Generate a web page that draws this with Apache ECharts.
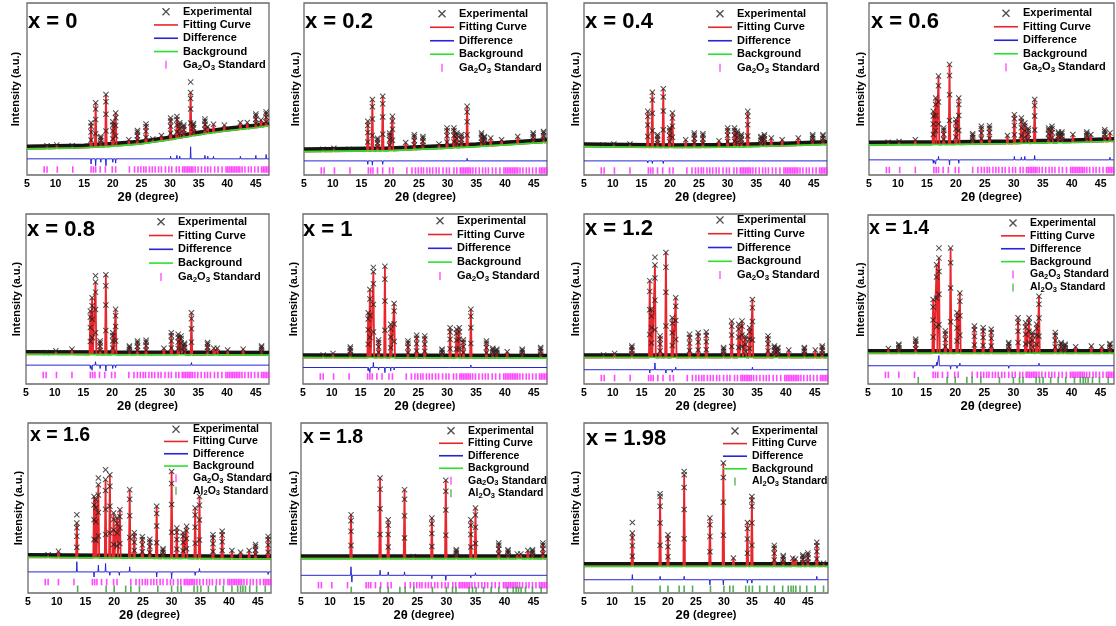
<!DOCTYPE html>
<html><head><meta charset="utf-8">
<script src="https://cdn.jsdelivr.net/npm/echarts@6/dist/echarts.min.js"></script>
<style>html,body{margin:0;padding:0;background:#fff}#c{width:1116px;height:626px}</style>
</head><body><div id="c"></div>
<script>
// ---------------- DATA ----------------
const titles = ['x = 0','x = 0.2','x = 0.4','x = 0.6','x = 0.8','x = 1','x = 1.2','x = 1.4','x = 1.6','x = 1.8','x = 1.98'];
const xTickLabels = [5,10,15,20,25,30,35,40,45];

// background curves [2theta, intensity]
const bg0 = [[5,15.2],[15,15.8],[20,16.8],[25,18.1],[30,20.5],[35,23.4],[40,25.7],[45,27.5],[47.3,28.6]];
const bg1 = [[5,13.6],[20,14.2],[30,15.6],[35,16.5],[40,17.5],[47.3,19]];
const bg2 = [[5,16.5],[20,16],[30,16.2],[40,17],[47.3,17.8]];
const bg3 = [[5,17.5],[20,17.8],[30,18.3],[40,18.9],[47.3,19.6]];
const bg4 = [[5,17.5],[20,17.3],[35,17.2],[47.3,17]];
const bg5 = [[5,15.6],[25,15.4],[47.3,15.2]];
const bg6 = [[5,15.6],[25,15.6],[47.3,15.6]];
const bg7 = [[5,18.2],[25,18.2],[47.3,18.2]];
const bg8 = [[5,21],[25,20.5],[47.3,20]];
const bg9 = [[5,20.2],[47.3,20.2]];
const bg10 = [[5,15.7],[48.6,15.7]];

// fitted peaks [2theta, peak top]
const peaks0 = [[8.5,17],[10.2,17.5],[12.9,17],[16.2,30.4],[17.0,42],[17.9,22.4],[18.8,46.8],[20.0,31],[20.5,36],[22.8,20.5],[24.3,25.9],[25.8,29.6],[27.0,21],[28.5,23],[30.1,33.1],[31.2,34],[31.7,30.4],[32.4,29],[33.6,48],[34.1,30],[36.1,32.5],[36.6,28],[37.6,29.5],[39.5,29],[42.3,30.4],[43.5,30.5],[45.0,35.5],[45.9,32],[46.8,36.7]];
const peaks1 = [[8.3,15],[10.2,15.5],[12.9,15],[16.1,31.2],[16.9,43.9],[17.8,21.4],[18.7,45.8],[19.9,24.4],[20.4,34.1],[22.7,18.9],[24.2,23.4],[25.7,22.4],[28.5,18],[29.9,27.3],[31.1,27.3],[31.6,24.4],[32.4,23.5],[33.4,39.9],[35.9,24.4],[36.4,22.4],[37.5,21.5],[39.4,20.5],[42.2,22.4],[44.9,24.4],[46.7,25.3]];
const peaks2 = [[8.3,17.5],[10.2,18],[13.0,18],[16.1,37],[16.9,48.1],[17.8,23.4],[18.8,50.1],[19.9,27.3],[20.4,36],[22.7,20.5],[24.2,24.4],[25.7,24],[28.5,19.9],[30.0,27.3],[31.2,27.3],[31.7,25.4],[32.4,23.5],[33.5,37],[35.8,22.4],[36.4,23.4],[37.6,21.5],[39.5,20.5],[42.3,21.5],[44.8,23.4],[46.6,23.4]];
const peaks3 = [[8.3,19],[10.2,19.5],[13.0,20.5],[16.1,37],[16.5,44.8],[17.0,57.5],[17.9,27.3],[18.9,64.3],[20.0,32.2],[20.5,44.8],[22.9,24],[24.4,28.3],[25.8,28.7],[28.9,23],[30.1,35.1],[31.3,33.1],[31.9,30.2],[32.5,27],[33.6,43.9],[36.0,27.3],[36.6,28.3],[37.7,25],[38.3,25],[40.2,23.5],[42.6,25],[43.3,23.5],[45.7,26.3],[46.6,24.5]];
const peaks4 = [[8.5,18.5],[10.2,19.5],[13.0,20.5],[16.2,42.9],[16.5,50.7],[17.1,60],[17.9,25.3],[18.9,64.3],[20.1,30.2],[20.6,43.9],[23.0,22.4],[24.4,25.3],[25.9,25.7],[29.0,21],[30.3,30.2],[31.5,29.2],[32.0,28.3],[32.6,24],[33.8,41.9],[36.6,24.4],[37.7,21],[38.3,21],[40.1,20],[42.8,20.5],[46.0,22.4]];
const peaks5 = [[8.5,17],[10.2,18],[13.2,21.8],[16.3,41.9],[16.6,55.6],[17.2,66],[18.1,25.9],[19.2,69.2],[20.2,35.1],[20.8,47.4],[23.2,25.3],[24.7,28.7],[26.1,28.3],[29.1,20.5],[30.5,33.1],[31.6,32.2],[32.1,33.1],[32.8,26],[34.1,43.9],[36.8,25.3],[37.9,21],[38.6,20.5],[40.4,19],[43.0,20.5],[46.2,21.5]];
const peaks6 = [[8.4,17],[10.3,18],[13.3,22.4],[16.4,60.8],[16.7,43.9],[17.3,70],[18.2,28.3],[19.2,77.4],[20.3,39],[20.9,50.7],[23.3,29.2],[24.8,30.2],[26.2,30.6],[29.2,21.4],[30.6,37],[31.8,35.1],[32.4,37],[33.0,28],[33.7,33.1],[34.2,49.7],[36.9,28.3],[38.0,22.4],[38.6,21.5],[40.5,20],[43.2,21.5],[45.1,20],[46.3,22.4]];
const peaks7 = [[8.5,21],[10.3,23.5],[13.2,26.5],[16.2,50],[16.8,70.6],[17.2,74.5],[18.3,31.4],[19.2,80.4],[20.3,42.2],[20.8,53.9],[23.3,34.3],[24.8,33.3],[26.2,32.4],[29.2,24.5],[30.8,39.2],[32.1,36.3],[32.7,39.2],[33.3,30.4],[34.0,35.3],[34.4,51.9],[37.2,30.4],[38.2,24.5],[38.9,23.5],[40.7,22],[43.4,22.5],[45.2,22],[46.6,24]];
const peaks8 = [[8.5,22.5],[10.3,24.5],[13.5,41.2],[16.5,56.8],[16.8,55],[17.25,63.7],[18.5,66.7],[19.25,69.6],[19.9,47.1],[20.5,44.2],[21.0,49],[22.7,60.8],[23.5,35.5],[24.9,33.1],[26.2,31.6],[27.4,51],[28.5,26],[30.0,71.5],[30.9,38.2],[32.0,35.5],[32.6,39.2],[34.1,50],[34.85,56.8],[37.2,34.3],[38.8,36.3],[40.5,25],[42.0,24],[43.5,25],[44.6,28.5],[46.8,33.3]];
const peaks9 = [[13.6,46.1],[18.6,67.6],[20.0,43.1],[22.8,60.8],[24.3,21.5],[27.5,44.1],[29.9,66.3],[31.7,25.5],[34.2,43.1],[35.0,50],[39.0,29.4],[40.6,25.5],[42.2,23],[42.8,23],[44.0,25],[44.8,25.5],[46.6,29.4]];
const peaks10 = [[13.64,35.3],[18.6,56.8],[20.0,34.3],[22.9,69.6],[27.5,44.1],[29.9,76.5],[31.7,20.6],[34.2,41.5],[35.0,56.8],[39.0,28],[40.6,22],[42.3,20.5],[42.8,20],[44.1,22.4],[45.0,23.6],[46.6,29.8],[47.8,17.5]];

// experimental maxima that stand off the fitted tops
const expTop0 = [[33.6,54]];
const expTop1 = [];
const expTop2 = [];
const expTop3 = [];
const expTop4 = [[17.1,63.7]];
const expTop5 = [[17.2,68.6]];
const expTop6 = [[17.3,74.5]];
const expTop7 = [[17.2,80.4]];
const expTop8 = [[13.5,46],[17.25,67.6],[18.5,72.5]];
const expTop9 = [];
const expTop10 = [[13.64,41.5],[18.6,58.4],[22.9,71.5],[35.0,54.5]];

// difference spikes [2theta, deviation]
const diff0 = [[16.2,-3],[17.0,-4],[17.9,-2],[18.8,-4],[20.0,-2],[20.5,-2.5],[30.1,1.5],[31.2,2],[31.7,1.5],[33.6,7],[36.1,2],[36.6,1.5],[37.6,1.5],[42.3,1.5],[45.0,2],[46.8,2.5]];
const diff1 = [[16.1,-2],[16.9,-2.5],[18.7,-2],[20.4,-1],[33.4,1.5]];
const diff2 = [[16.1,-1.2],[16.9,-1.5],[18.8,-1.5],[33.5,1]];
const diff3 = [[16.1,-2],[16.5,-2.5],[17.0,2],[18.9,-3],[20.5,-2],[30.1,2],[31.3,1.5],[31.9,2],[33.6,2.5],[46.6,1.5]];
const diff4 = [[16.2,-2],[16.5,-3],[17.1,2],[17.9,-2],[18.9,-3.5],[20.1,-2],[20.6,-1.5],[33.8,1.5]];
const diff5 = [[16.3,-2],[16.6,-3],[17.2,3],[18.1,-1.5],[19.2,-3],[20.2,-2],[20.8,-1.5],[30.5,-1],[32.1,1],[34.1,1.5]];
const diff6 = [[16.4,-2],[17.3,4],[18.2,-1],[19.2,-2],[20.3,-1.5],[20.9,1.5],[30.6,-1],[32.4,1],[34.2,1.5]];
const diff7 = [[16.2,-1.5],[16.8,2],[17.2,6],[19.2,-2],[20.3,-1.5],[20.8,1.5],[23.3,1],[29.2,-1.5],[30.8,1],[32.7,1],[34.4,1.5]];
const diff8 = [[13.5,6],[16.5,-3],[17.25,4],[18.5,5],[19.25,-2],[20.9,-2],[22.7,3],[27.4,-3],[30.0,-4],[34.1,-2],[34.85,2],[46.8,-1.5]];
const diff9 = [[13.6,5],[13.75,-4],[18.6,3],[20.0,2],[22.8,2],[27.5,-2],[29.9,-3],[34.2,-1.5],[35.0,1.5]];
const diff10 = [[13.64,3],[18.6,2],[22.9,2],[27.5,-3],[29.9,-3],[34.2,-2],[35.0,-2],[46.6,2]];

const diffLevel = [9.4,8.2,8.2,8.8,11.1,9.7,8.4,10.8,12.4,10.4,7.8];
const gaLevel = [3.2,2.6,2.6,2.9,5.3,4.4,3.5,5.4,6.4,4.6,null];
const alLevel = [null,null,null,null,null,null,null,2.3,2.5,1.8,2.5];

// reflection positions
const gaTicks = [8.0,8.5,10.3,13.0,16.2,16.6,17.0,17.8,18.7,19.9,20.5,22.9,23.8,24.4,24.9,25.4,25.8,26.4,26.9,27.4,28.0,28.5,29.2,29.8,30.3,31.1,31.6,32.2,32.5,32.8,33.1,33.4,33.7,34.0,34.4,34.9,35.5,36.1,36.6,37.1,37.8,38.4,39.1,39.8,40.1,40.4,40.7,41.0,41.3,41.6,41.9,42.2,42.6,43.1,43.7,44.2,44.8,45.4,46.0,46.3,46.6,46.9,47.2];
const alTicks = [13.64,18.6,20.0,22.0,22.9,24.4,27.6,30.0,31.05,31.65,33.9,34.5,35.1,36.4,37.7,39.0,40.5,41.5,42.0,42.4,42.85,43.6,44.8,46.3,47.8];

const BG = [bg0,bg1,bg2,bg3,bg4,bg5,bg6,bg7,bg8,bg9,bg10];
const PEAKS = [peaks0,peaks1,peaks2,peaks3,peaks4,peaks5,peaks6,peaks7,peaks8,peaks9,peaks10];
const EXPTOP = [expTop0,expTop1,expTop2,expTop3,expTop4,expTop5,expTop6,expTop7,expTop8,expTop9,expTop10];
const DIFF = [diff0,diff1,diff2,diff3,diff4,diff5,diff6,diff7,diff8,diff9,diff10];

// ---------------- LAYOUT / STYLE ----------------
const FONT = 'Liberation Sans, Arial, Helvetica, sans-serif';
const layout = [
  {g:[27,3,242,172],   xmax:47.3, t:[28,10.5,22],   lg:[154,5,11,13.3],    yg:6},
  {g:[304,3,243,172],  xmax:47.3, t:[305,10.5,22],  lg:[430,7,11,13.5],    yg:3},
  {g:[584,3,243,172],  xmax:47.3, t:[585,10.5,22],  lg:[708,7,11,13.5],    yg:3},
  {g:[869,3,245,172],  xmax:47.3, t:[871,10.5,22],  lg:[994,6.5,11,13.5],  yg:2.5},
  {g:[26,214,243,170], xmax:47.3, t:[27,218.5,22],  lg:[149,214.8,11,13.8],yg:3.5},
  {g:[303,214,244,170],xmax:47.3, t:[303,219,22],   lg:[428,213.8,11,13.8],yg:3.5},
  {g:[584,214,244,170],xmax:47.3, t:[585,218,22],   lg:[708,213,11,13.8],  yg:2.5},
  {g:[868,215,246,169],xmax:47.3, t:[869,219,19.5], lg:[1001,216.5,10.5,12.9],yg:2},
  {g:[28,423,243,170], xmax:47.3, t:[30,425.5,19.5],lg:[164,423,10.5,12.3],yg:3.5},
  {g:[301,423,246,170],xmax:47.3, t:[303,428,19.5], lg:[439,424.5,10.5,12.5],yg:1.5},
  {g:[584,423,244,170],xmax:48.6, t:[586,427.5,22], lg:[723,424.7,10.5,12.6],yg:2.7}
];
const CROSS = 'path://M0,1.2L1.2,0L5,3.8L8.8,0L10,1.2L6.2,5L10,8.8L8.8,10L5,6.2L1.2,10L0,8.8L3.8,5Z';
const TICK = 'path://M0,0L1,0L1,6L0,6Z';
const LINEICON = 'path://M0,0L24,0L24,1.6L0,1.6Z';
const flankLevels = [0.3, 0.62, 0.86, 1];

function bgAt(b, x) {
  for (let k = 0; k < b.length - 1; k++) {
    if (x >= b[k][0] && x <= b[k+1][0]) {
      const f = (x - b[k][0]) / (b[k+1][0] - b[k][0]);
      return b[k][1] + f * (b[k+1][1] - b[k][1]);
    }
  }
  return b[b.length-1][1];
}

const grids = [], xAxes = [], yAxes = [], series = [], legends = [], titleArr = [];
for (let i = 0; i < 11; i++) {
  const L = layout[i];
  const b = BG[i];
  grids.push({left:L.g[0], top:L.g[1], width:L.g[2], height:L.g[3], show:true, borderColor:'#6a6a6a', borderWidth:1.3, containLabel:false});
  xAxes.push({type:'value', gridIndex:i, min:5, max:L.xmax, interval:5,
    axisLine:{show:false}, axisTick:{show:false}, splitLine:{show:false},
    axisLabel:{color:'#000', fontSize:10.5, fontWeight:'bold', fontFamily:FONT, margin:4, showMaxLabel:false,
      formatter: v => (xTickLabels.indexOf(Math.round(v*100)/100) >= 0 ? String(v) : '')},
    name:'{a|2θ} {b|(degree)}', nameLocation:'middle', nameGap:10,
    nameTextStyle:{color:'#000', rich:{a:{fontSize:13, fontWeight:'bold', fontFamily:FONT, color:'#000'}, b:{fontSize:11, fontWeight:'bold', fontFamily:FONT, color:'#000'}}}
  });
  yAxes.push({type:'value', gridIndex:i, min:0, max:100,
    axisLine:{show:false}, axisTick:{show:false}, axisLabel:{show:false}, splitLine:{show:false},
    name:'Intensity (a.u.)', nameLocation:'middle', nameGap:L.yg,
    nameTextStyle:{color:'#000', fontSize:11, fontWeight:'bold', fontFamily:FONT}
  });
  titleArr.push({text:titles[i], left:L.t[0], top:L.t[1], padding:0,
    textStyle:{fontSize:L.t[2], fontWeight:'bold', color:'#000', fontFamily:FONT}});

  // derived geometry
  const pk = PEAKS[i].slice().sort((a,c)=>a[0]-c[0]);
  const fit = [b[0]];
  const exp = [];
  pk.forEach(([p,h]) => {
    const base = bgAt(b, p);
    fit.push([p-0.14, base], [p, h], [p+0.14, base]);
    const amp = h - base;
    (amp > 5 ? flankLevels : [1]).forEach(f => exp.push([p, base + f*amp]));
  });
  fit.push(b[b.length-1]);
  EXPTOP[i].forEach(e => exp.push(e));
  const dl = diffLevel[i];
  const dd = [[5, dl]];
  DIFF[i].slice().sort((a,c)=>a[0]-c[0]).forEach(([p,a]) => dd.push([p-0.07, dl], [p, dl+a], [p+0.07, dl]));
  dd.push([L.xmax, dl]);
  const band = b.map(([x,y]) => [x, y + 1.2]);

  const ax = {xAxisIndex:i, yAxisIndex:i};
  series.push(Object.assign({type:'line', name:'band', data:band, symbol:'none', silent:true, lineStyle:{color:'#141414', width:4.5}, z:1}, ax));
  series.push(Object.assign({type:'line', name:'Fitting Curve', data:fit, symbol:'none', lineStyle:{color:'#e8262b', width:1.8}, itemStyle:{color:'#e8262b'}, z:2}, ax));
  series.push(Object.assign({type:'scatter', name:'Experimental', data:exp, symbol:CROSS, symbolSize:6, itemStyle:{color:'#222'}, z:3}, ax));
  series.push(Object.assign({type:'line', name:'Background', data:b, symbol:'none', lineStyle:{color:'#2be02b', width:1.6}, itemStyle:{color:'#2be02b'}, z:4}, ax));
  series.push(Object.assign({type:'line', name:'Difference', data:dd, symbol:'none', lineStyle:{color:'#2626d6', width:1}, itemStyle:{color:'#2626d6'}, z:4}, ax));
  const items = [{name:'Experimental', icon:CROSS}, {name:'Fitting Curve', icon:LINEICON}, {name:'Difference', icon:LINEICON}, {name:'Background', icon:LINEICON}];
  if (gaLevel[i] !== null) {
    series.push(Object.assign({type:'scatter', name:'Ga2O3 Standard', data:gaTicks.map(p=>[p, gaLevel[i]]), symbol:TICK, symbolSize:[1.6,6.5], itemStyle:{color:'#ff1cff'}, z:3}, ax));
    items.push({name:'Ga2O3 Standard', icon:TICK});
  }
  if (alLevel[i] !== null) {
    series.push(Object.assign({type:'scatter', name:'Al2O3 Standard', data:alTicks.map(p=>[p, alLevel[i]]), symbol:TICK, symbolSize:[1.6,6.5], itemStyle:{color:'#2a9a2a'}, z:3}, ax));
    items.push({name:'Al2O3 Standard', icon:TICK});
  }
  const fs = L.lg[2], lh = L.lg[3];
  legends.push({orient:'vertical', left:L.lg[0], top:L.lg[1], padding:0, itemGap:0, itemWidth:24, itemHeight:8,
    selectedMode:false, data:items,
    formatter: n => n.indexOf('O3') > 0 ? '{n|' + n.slice(0,2) + '}{s|2}{n|O}{s|3}{n|' + n.slice(5) + '}' : n,
    textStyle:{color:'#000', fontSize:fs, fontWeight:'bold', fontFamily:FONT, lineHeight:lh,
      rich:{n:{fontSize:fs, fontWeight:'bold', fontFamily:FONT, color:'#000', lineHeight:lh},
            s:{fontSize:fs*0.72, fontWeight:'bold', fontFamily:FONT, color:'#000', lineHeight:6, verticalAlign:'bottom'}}}
  });
}

const chart = echarts.init(document.getElementById('c'), null, {renderer:'canvas'});
chart.setOption({backgroundColor:'#fff', animation:false, title:titleArr, grid:grids, xAxis:xAxes, yAxis:yAxes, legend:legends, series:series});
</script></body></html>
